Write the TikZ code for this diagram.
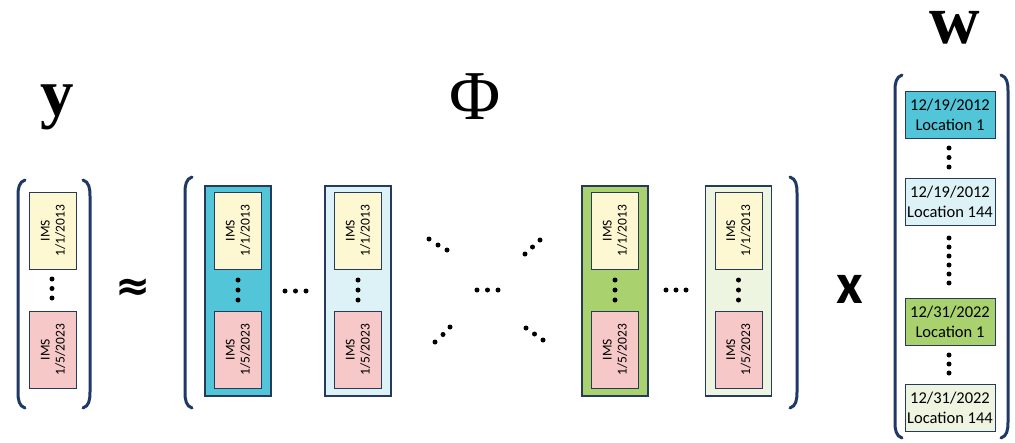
\documentclass[tikz,border=0pt]{standalone}
\usepackage{fontspec}
\newfontfamily\calib{Carlito}
\newfontfamily\dejab{DejaVu Sans}
\newfontfamily\libser{Liberation Serif}
\usetikzlibrary{calc}
\definecolor{navy}{HTML}{1F3864}
\definecolor{edge}{HTML}{263A5C}
\definecolor{cyanD}{HTML}{53C5D8}
\definecolor{cyanL}{HTML}{DDF2F7}
\definecolor{greenD}{HTML}{A9D26E}
\definecolor{greenL}{HTML}{EDF4DF}
\definecolor{yel}{HTML}{FDF7D2}
\definecolor{pnk}{HTML}{F6C8C8}
\tikzset{
  column/.style={draw=edge, line width=1.1pt, minimum width=66pt, minimum height=210pt, inner sep=0pt},
  cell/.style={draw=edge, line width=1pt, rotate=90, minimum width=77pt, minimum height=47pt,
    inner sep=0pt, align=center, font=\calib\fontsize{13.5}{15}\selectfont},
  wcell/.style={draw=edge, line width=1pt, minimum width=90pt, minimum height=47pt,
    inner sep=0pt, align=center, font=\calib\fontsize{16.5}{20}\selectfont},
  brk/.style={draw=navy, line width=3pt, line cap=round},
  dot/.style={circle, fill=black, inner sep=0pt, minimum size=5pt},
  title/.style={inner sep=0pt, anchor=center}
}
% left and right round brackets spanning #2..#3 at x=#1
\newcommand{\lbrk}[3]{\draw[brk] ($(#1,#2)+(7,0)$) .. controls ($(#1,#2)+(1,2)$) and ($(#1,#2)+(0,8)$) .. ($(#1,#2)+(0,16)$)
  -- ($(#1,#3)+(0,-16)$) .. controls ($(#1,#3)+(0,-8)$) and ($(#1,#3)+(1,-2)$) .. ($(#1,#3)+(7,0)$);}
\newcommand{\rbrk}[3]{\draw[brk] ($(#1,#2)+(-7,0)$) .. controls ($(#1,#2)+(-1,2)$) and ($(#1,#2)+(0,8)$) .. ($(#1,#2)+(0,16)$)
  -- ($(#1,#3)+(0,-16)$) .. controls ($(#1,#3)+(0,-8)$) and ($(#1,#3)+(-1,-2)$) .. ($(#1,#3)+(-7,0)$);}
\begin{document}
\begin{tikzpicture}[x=1pt,y=-1pt]
\useasboundingbox[fill=white] (0,0) rectangle (1015,442);

% ---- observation vector y
\lbrk{18}{180}{408}
\rbrk{90}{180}{408}
\node[cell, fill=yel] (y1) at (53,230.5) {IMS\\1/1/2013};
\node[cell, fill=pnk] (y2) at (53,349.5) {IMS\\1/5/2023};
\foreach \yy [count=\i] in {279,288.5,298} \node[dot] (yd\i) at (52,\yy) {};
\node[title, font=\libser\bfseries\fontsize{67}{67}\selectfont] (ylab) at (57,107.5) {y};

% ---- approx sign
\node[inner sep=0pt, font=\dejab\bfseries\fontsize{42}{42}\selectfont] (approx) at (133.5,289.5) {≈};

% ---- design matrix Phi
\lbrk{185}{177}{408}
\rbrk{797}{177}{408}
\node[title, font=\libser\fontsize{70}{70}\selectfont] (philab) at (475,96.5) {Φ};

\foreach \cx/\fc/\nm in {238/cyanD/c1, 358/cyanL/c2, 615/greenD/c3, 738.5/greenL/c4}{
  \node[column, fill=\fc] (\nm) at (\cx,291) {};
  \node[cell, fill=yel] (\nm a) at (\cx,230.5) {IMS\\1/1/2013};
  \node[cell, fill=pnk] (\nm b) at (\cx,349.5) {IMS\\1/5/2023};
  \foreach \yy [count=\i] in {280,290,300} \node[dot] (\nm d\i) at (\cx,\yy) {};
}
% dots between columns
\foreach \xx [count=\i] in {285,295.5,306} \node[dot] (h1\i) at (\xx,291) {};
\foreach \xx [count=\i] in {666,676,686} \node[dot] (h2\i) at (\xx,290) {};
% central dots
\foreach \xx/\yy [count=\i] in {429/239, 438/245, 447/250,
                                525/254, 532.5/247, 540/240,
                                477/290, 487.5/290, 498/290,
                                435/342, 443/334.5, 450/327,
                                526/328, 534.5/334, 543/340}
  \node[dot] (m\i) at (\xx,\yy) {};

% ---- times sign
\node[inner sep=0pt, font=\calib\bfseries\fontsize{58}{58}\selectfont] (times) at (850,289) {x};

% ---- weight vector w
\lbrk{895}{75}{438}
\rbrk{1008}{75}{438}
\node[title, font=\libser\bfseries\fontsize{70}{70}\selectfont] (wlab) at (955,27.5) {w};
\node[wcell, fill=cyanD] (w1) at (950,114.5) {12/19/2012\\Location 1};
\node[wcell, fill=cyanL] (w2) at (950,201.5) {12/19/2012\\Location 144};
\node[wcell, fill=greenD] (w3) at (950,321.5) {12/31/2022\\Location 1};
\node[wcell, fill=greenL] (w4) at (950,407.5) {12/31/2022\\Location 144};
\foreach \yy [count=\i] in {148,157.5,167} \node[dot] (wa\i) at (949,\yy) {};
\foreach \yy [count=\i] in {238,247,256,265,274,283} \node[dot] (wb\i) at (949,\yy) {};
\foreach \yy [count=\i] in {355,364,373} \node[dot] (wc\i) at (949,\yy) {};
\end{tikzpicture}
\end{document}
